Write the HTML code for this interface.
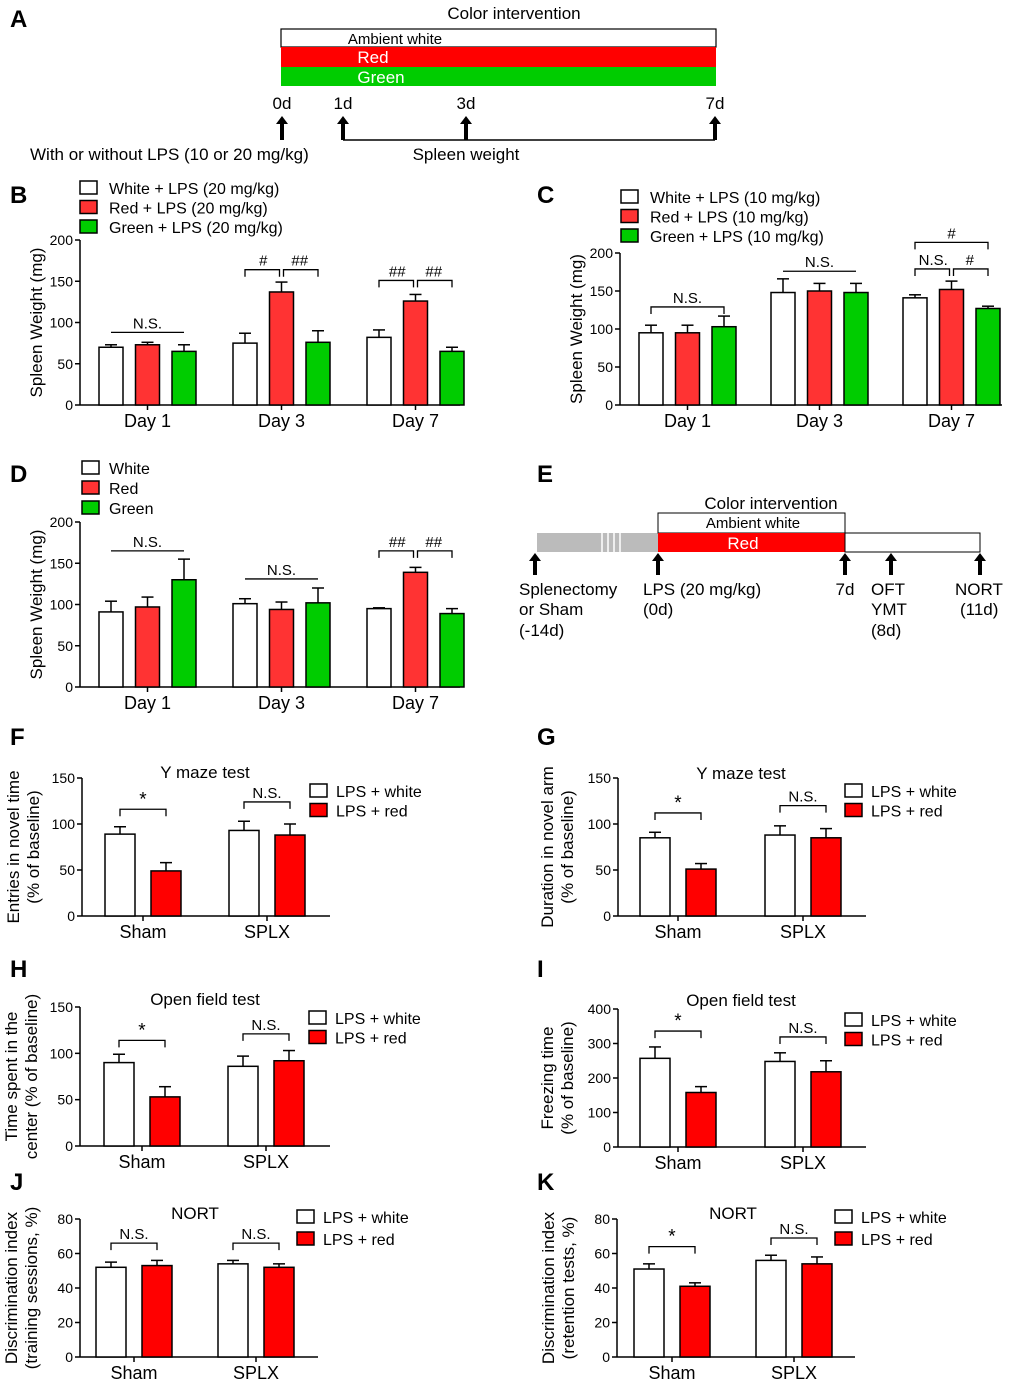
<!DOCTYPE html>
<html><head><meta charset="utf-8"><style>
body{margin:0;background:#fff}
svg{display:block;font-family:"Liberation Sans",Arial,sans-serif}
</style></head><body>
<svg id="fig" width="1020" height="1389" viewBox="0 0 1020 1389" xmlns="http://www.w3.org/2000/svg">
<g font-size="24" font-weight="bold">
<text x="10" y="27">A</text><text x="10" y="203">B</text><text x="537" y="203">C</text><text x="10" y="482">D</text><text x="537" y="482">E</text>
<text x="10" y="745">F</text><text x="537" y="745">G</text><text x="10" y="977">H</text><text x="537" y="977">I</text><text x="10" y="1190">J</text><text x="537" y="1190">K</text>
</g>
<g font-size="17">
<text x="514" y="19" text-anchor="middle">Color intervention</text>
<rect x="281" y="29" width="435" height="18" fill="#fff" stroke="#000" stroke-width="1.2"/>
<text x="395" y="44" text-anchor="middle" font-size="15">Ambient white</text>
<rect x="281" y="47" width="435" height="20" fill="#ff0000"/>
<text x="373" y="63" text-anchor="middle" fill="#fff">Red</text>
<rect x="281" y="67" width="435" height="19" fill="#00cc00"/>
<text x="381" y="83" text-anchor="middle" fill="#fff">Green</text>
<text x="282" y="109" text-anchor="middle">0d</text><text x="343" y="109" text-anchor="middle">1d</text>
<text x="466" y="109" text-anchor="middle">3d</text><text x="715" y="109" text-anchor="middle">7d</text>
<g stroke="#000" stroke-width="4"><line x1="282" y1="140" x2="282" y2="122"/><line x1="343" y1="140" x2="343" y2="122"/><line x1="466" y1="140" x2="466" y2="122"/><line x1="715" y1="140" x2="715" y2="122"/></g>
<g fill="#000"><path d="M276,124 L282,116 L288,124z"/><path d="M337,124 L343,116 L349,124z"/><path d="M460,124 L466,116 L472,124z"/><path d="M709,124 L715,116 L721,124z"/></g>
<line x1="343" y1="140" x2="715" y2="140" stroke="#000" stroke-width="1.5"/>
<text x="30" y="160">With or without LPS (10 or 20 mg/kg)</text>
<text x="466" y="160" text-anchor="middle">Spleen weight</text>
</g>
<g font-size="17">
<text x="771" y="509" text-anchor="middle">Color intervention</text>
<rect x="537" y="533" width="121" height="19" fill="#bbb"/>
<g stroke="#fff" stroke-width="1.5"><line x1="602" y1="533" x2="602" y2="552"/><line x1="608" y1="533" x2="608" y2="552"/><line x1="614" y1="533" x2="614" y2="552"/><line x1="620" y1="533" x2="620" y2="552"/></g>
<rect x="658" y="513" width="187" height="20" fill="#fff" stroke="#000"/>
<text x="753" y="528" text-anchor="middle" font-size="15">Ambient white</text>
<rect x="658" y="533" width="187" height="19" fill="#ff0000"/>
<text x="743" y="549" text-anchor="middle" fill="#fff">Red</text>
<rect x="845" y="533" width="135" height="19" fill="#fff" stroke="#000"/>
<g stroke="#000" stroke-width="4"><line x1="535" y1="575" x2="535" y2="559"/><line x1="658" y1="575" x2="658" y2="559"/><line x1="845" y1="575" x2="845" y2="559"/><line x1="891" y1="575" x2="891" y2="559"/><line x1="980" y1="575" x2="980" y2="559"/></g>
<g fill="#000"><path d="M529,561 L535,553 L541,561z"/><path d="M652,561 L658,553 L664,561z"/><path d="M839,561 L845,553 L851,561z"/><path d="M885,561 L891,553 L897,561z"/><path d="M974,561 L980,553 L986,561z"/></g>
<text x="519" y="595">Splenectomy</text><text x="519" y="615">or Sham</text><text x="519" y="636">(-14d)</text>
<text x="643" y="595">LPS (20 mg/kg)</text><text x="643" y="615">(0d)</text>
<text x="845" y="595" text-anchor="middle">7d</text>
<text x="871" y="595">OFT</text><text x="871" y="615">YMT</text><text x="871" y="636">(8d)</text>
<text x="955" y="595">NORT</text><text x="960" y="615">(11d)</text>
</g>
<g id="charts"></g>
</svg>
<script>
const daysCats = ["Day 1","Day 3","Day 7"];
const bWhite=[70,75,82], bRed=[73,137,126], bGreen=[65,76,65];
const bWhiteErr=[3,12,9], bRedErr=[3,12,8], bGreenErr=[8,14,5];
const cWhite=[95,148,141], cRed=[95,150,152], cGreen=[103,148,127];
const cWhiteErr=[10,18,4], cRedErr=[10,10,11], cGreenErr=[14,12,3];
const dWhite=[91,101,95], dRed=[97,94,139], dGreen=[130,102,89];
const dWhiteErr=[13,6,1], dRedErr=[12,9,6], dGreenErr=[25,18,6];
const grpCats=["Sham","SPLX"];
const fWhite=[89,93], fRed=[49,88], fWhiteErr=[8,10], fRedErr=[9,12];
const gWhite=[85,88], gRed=[51,85], gWhiteErr=[6,10], gRedErr=[6,10];
const hWhite=[90,86], hRed=[53,92], hWhiteErr=[9,11], hRedErr=[11,11];
const iWhite=[257,248], iRed=[158,218], iWhiteErr=[33,25], iRedErr=[17,32];
const jWhite=[52,54], jRed=[53,52], jWhiteErr=[3,2], jRedErr=[3,2];
const kWhite=[51,56], kRed=[41,54], kWhiteErr=[3,3], kRedErr=[2,4];
const ticks200=[0,50,100,150,200], ticks150=[0,50,100,150], ticks400=[0,100,200,300,400], ticks80=[0,20,40,60,80];

const NS='http://www.w3.org/2000/svg';
const root=document.getElementById('charts');
function mk(tag,attrs,parent,txt){const e=document.createElementNS(NS,tag);for(const k in attrs)e.setAttribute(k,attrs[k]);if(txt!==undefined)e.textContent=txt;parent.appendChild(e);return e;}

function chart(c){
  const g=mk('g',{},root);
  
  
  const ys=v=>c.yBot-(v/c.max)*(c.yBot-c.yTop);
  const bx=(gi,si)=>c.x0+gi*c.gstep+si*c.bstep;
  const ax=mk('line',{x1:c.ax,y1:c.yTop,x2:c.ax,y2:c.yBot,stroke:'#000','stroke-width':1.5},g);
  
  
  const xa=mk('line',{x1:c.ax,y1:c.yBot,x2:c.xEnd,y2:c.yBot,stroke:'#000','stroke-width':1.5},g);
  
  
  c.ticks.forEach(t=>{
    mk('line',{x1:c.ax-5,y1:ys(t),x2:c.ax,y2:ys(t),stroke:'#000','stroke-width':1.5},g);
    const tl=mk('text',{x:c.ax-7,y:ys(t)+5,'text-anchor':'end','font-size':14},g,String(t));
    
    
  });
  const n=c.series.length;
  c.cats.forEach((cat,gi)=>{
    const cx=bx(gi,0)+((n-1)*c.bstep+c.bw)/2;
    mk('line',{x1:cx,y1:c.yBot,x2:cx,y2:c.yBot+5,stroke:'#000','stroke-width':1.5},g);
    const cl=mk('text',{x:cx,y:c.yBot+22,'text-anchor':'middle','font-size':18},g,cat);
    
    
  });
  c.series.forEach((s,si)=>{
    s.vals.forEach((v,gi)=>{
      const x=bx(gi,si), cx=x+c.bw/2, e=s.err[gi];
      mk('line',{x1:cx,y1:ys(v),x2:cx,y2:ys(v+e),stroke:'#000','stroke-width':1.5},g);
      mk('line',{x1:cx-6,y1:ys(v+e),x2:cx+6,y2:ys(v+e),stroke:'#000','stroke-width':1.5},g);
      const r=mk('rect',{x:x,y:ys(v),width:c.bw,height:c.yBot-ys(v),fill:s.color,stroke:'#000','stroke-width':1.5},g);
      
      
    });
  });
  (c.brackets||[]).forEach(b=>{
    const x1=bx(b[0],b[1])+c.bw/2, x2=bx(b[0],b[2])+c.bw/2, y=ys(b[3]);
    const d=b[5]===false?0:7;
    const p=mk('path',{d:`M${x1+(b[6]||0)},${y+d} L${x1+(b[6]||0)},${y} L${x2-(b[7]||0)},${y} L${x2-(b[7]||0)},${y+d}`,fill:'none',stroke:'#000','stroke-width':1.3},g);
    
    
    const t=mk('text',{x:(x1+x2)/2,y:y-4,'text-anchor':'middle','font-size':b[4]==='*'?19:15},g,b[4]);
    
    
  });
  const yl=mk('text',{transform:`translate(${c.ylx},${(c.yTop+c.yBot)/2}) rotate(-90)`,'text-anchor':'middle','font-size':17},g);
  
  
  c.ytitle.forEach((ln,i)=>{mk('tspan',{x:0,dy:i===0?(c.ytitle.length>1?-2:0):20},yl,ln);});
  if(c.title){const tt=mk('text',{x:c.title[1],y:c.title[2],'text-anchor':'middle','font-size':17},g,c.title[0]);
    
    }
  c.legend.forEach((L,i)=>{
    const y=c.leg[1]+i*c.leg[3];
    const lb=mk('rect',{x:c.leg[0],y:y-12,width:17,height:13,fill:L[1],stroke:'#000','stroke-width':1.5},g);
    
    
    const lt=mk('text',{x:c.leg[0]+c.leg[2],y:y+1,'font-size':16},g,L[0]);
    
    
  });
}
const W='#fff', R='#ff3333', G='#00cc00', RR='#ff0000';
chart({name:'panel-b-chart',ax:80,yTop:240,yBot:405,max:200,ticks:ticks200,xEnd:460,x0:99,gstep:134,bstep:36.5,bw:24,cats:daysCats,ylx:42,ytitle:['Spleen Weight (mg)'],
 series:[{key:'white',vals:bWhite,err:bWhiteErr,color:W},{key:'red',vals:bRed,err:bRedErr,color:R},{key:'green',vals:bGreen,err:bGreenErr,color:G}],
 brackets:[[0,0,2,88,'N.S.',false],[1,0,1,164,'#',true,0,2],[1,1,2,164,'##',true,2,0],[2,0,1,151,'##',true,0,2],[2,1,2,151,'##',true,2,0]],
 legend:[['White + LPS (20 mg/kg)',W],['Red + LPS (20 mg/kg)',R],['Green + LPS (20 mg/kg)',G]],leg:[80,193,29,19.5]});
chart({name:'panel-c-chart',ax:620,yTop:253,yBot:405,max:200,ticks:ticks200,xEnd:1002,x0:639,gstep:132,bstep:36.5,bw:24,cats:daysCats,ylx:582,ytitle:['Spleen Weight (mg)'],
 series:[{key:'white',vals:cWhite,err:cWhiteErr,color:W},{key:'red',vals:cRed,err:cRedErr,color:R},{key:'green',vals:cGreen,err:cGreenErr,color:G}],
 brackets:[[0,0,2,129,'N.S.',true],[1,0,2,176,'N.S.',false],[2,0,2,214,'#',true],[2,0,1,179,'N.S.',true,0,2],[2,1,2,179,'#',true,2,0]],
 legend:[['White + LPS (10 mg/kg)',W],['Red + LPS (10 mg/kg)',R],['Green + LPS (10 mg/kg)',G]],leg:[621,202,29,19.5]});
chart({name:'panel-d-chart',ax:80,yTop:522,yBot:687,max:200,ticks:ticks200,xEnd:460,x0:99,gstep:134,bstep:36.5,bw:24,cats:daysCats,ylx:42,ytitle:['Spleen Weight (mg)'],
 series:[{key:'white',vals:dWhite,err:dWhiteErr,color:W},{key:'red',vals:dRed,err:dRedErr,color:R},{key:'green',vals:dGreen,err:dGreenErr,color:G}],
 brackets:[[0,0,2,165,'N.S.',false],[1,0,2,131,'N.S.',false],[2,0,1,165,'##',true,0,2],[2,1,2,165,'##',true,2,0]],
 legend:[['White',W],['Red',R],['Green',G]],leg:[82,473,27,20]});
const lg2=[['LPS + white',W],['LPS + red',RR]];
chart({name:'panel-f-chart',ax:82,yTop:778,yBot:916,max:150,ticks:ticks150,xEnd:330,x0:105,gstep:124,bstep:46,bw:30,cats:grpCats,ylx:21,ytitle:['Entries in novel time','(% of baseline)'],title:['Y maze test',205,778],
 series:[{key:'white',vals:fWhite,err:fWhiteErr,color:W},{key:'red',vals:fRed,err:fRedErr,color:RR}],
 brackets:[[0,0,1,116,'*',true],[1,0,1,124,'N.S.',true]],legend:lg2,leg:[310,796,26,19.5]});
chart({name:'panel-g-chart',ax:618,yTop:778,yBot:916,max:150,ticks:ticks150,xEnd:866,x0:640,gstep:125,bstep:46,bw:30,cats:grpCats,ylx:555,ytitle:['Duration in novel arm','(% of baseline)'],title:['Y maze test',741,779],
 series:[{key:'white',vals:gWhite,err:gWhiteErr,color:W},{key:'red',vals:gRed,err:gRedErr,color:RR}],
 brackets:[[0,0,1,112,'*',true],[1,0,1,120,'N.S.',true]],legend:lg2,leg:[845,796,26,19.5]});
chart({name:'panel-h-chart',ax:80,yTop:1007,yBot:1146,max:150,ticks:ticks150,xEnd:330,x0:104,gstep:124,bstep:46,bw:30,cats:grpCats,ylx:19,ytitle:['Time spent in the','center (% of baseline)'],title:['Open field test',205,1005],
 series:[{key:'white',vals:hWhite,err:hWhiteErr,color:W},{key:'red',vals:hRed,err:hRedErr,color:RR}],
 brackets:[[0,0,1,114,'*',true],[1,0,1,121,'N.S.',true]],legend:lg2,leg:[309,1023,26,19.5]});
chart({name:'panel-i-chart',ax:618,yTop:1009,yBot:1147,max:400,ticks:ticks400,xEnd:866,x0:640,gstep:125,bstep:46,bw:30,cats:grpCats,ylx:555,ytitle:['Freezing time','(% of baseline)'],title:['Open field test',741,1006],
 series:[{key:'white',vals:iWhite,err:iWhiteErr,color:W},{key:'red',vals:iRed,err:iRedErr,color:RR}],
 brackets:[[0,0,1,336,'*',true],[1,0,1,319,'N.S.',true]],legend:lg2,leg:[845,1025,26,19.5]});
chart({name:'panel-j-chart',ax:80,yTop:1219,yBot:1357,max:80,ticks:ticks80,xEnd:318,x0:96,gstep:122,bstep:46,bw:30,cats:grpCats,ylx:19,ytitle:['Discrimination index','(training sessions, %)'],title:['NORT',195,1219],
 series:[{key:'white',vals:jWhite,err:jWhiteErr,color:W},{key:'red',vals:jRed,err:jRedErr,color:RR}],
 brackets:[[0,0,1,66,'N.S.',true],[1,0,1,66,'N.S.',true]],legend:lg2,leg:[297,1222,26,22]});
chart({name:'panel-k-chart',ax:617,yTop:1219,yBot:1357,max:80,ticks:ticks80,xEnd:855,x0:634,gstep:122,bstep:46,bw:30,cats:grpCats,ylx:556,ytitle:['Discrimination index','(retention tests, %)'],title:['NORT',733,1219],
 series:[{key:'white',vals:kWhite,err:kWhiteErr,color:W},{key:'red',vals:kRed,err:kRedErr,color:RR}],
 brackets:[[0,0,1,64,'*',true],[1,0,1,69,'N.S.',true]],legend:lg2,leg:[835,1222,26,22]});
</script>
</body></html>
